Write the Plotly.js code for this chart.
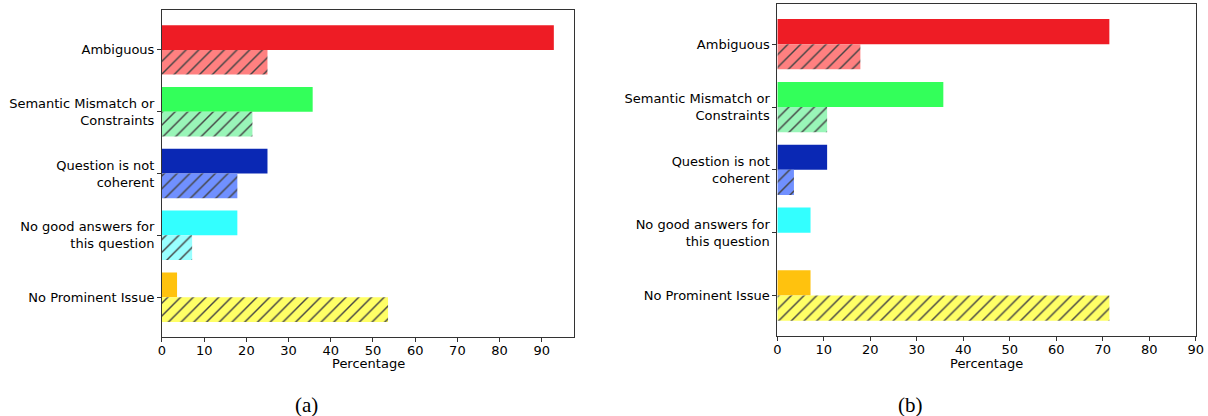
<!DOCTYPE html>
<html>
<head>
<meta charset="utf-8">
<script src="https://cdn.plot.ly/plotly-3.0.1.min.js"></script>
<style>html,body{margin:0;padding:0;background:#fff}#chart{width:1208px;height:416px}</style>
</head>
<body>
<div id="chart"></div>
<script>
const categories = ["Ambiguous", "Semantic Mismatch or<br>Constraints", "Question is not<br>coherent", "No good answers for<br>this question", "No Prominent Issue"];
const solidA = [92.86, 35.71, 25.00, 17.86, 3.57];
const hatchA = [25.00, 21.43, 17.86, 7.14, 53.57];
const solidB = [71.43, 35.71, 10.71, 7.14, 7.14];
const hatchB = [17.86, 10.71, 3.57, 0, 71.43];
const solidColors = ["#ee1c25", "#33ff5a", "#0a28b4", "#33ffff", "#ffc20e"];
const hatchColors = ["#ff8080", "#99f5b8", "#7090ff", "#99ffff", "#ffff66"];
const captions = ["(a)", "(b)"];
const xTitle = "Percentage";

function solidTrace(x, xa, ya) {
  return {type: "bar", orientation: "h", y: categories, x: x, xaxis: xa, yaxis: ya,
    width: 0.4, offset: -0.4, marker: {color: solidColors, line: {width: 0}},
    hoverinfo: "x+y", showlegend: false};
}
function hatchTrace(x, xa, ya) {
  return {type: "bar", orientation: "h", y: categories, x: x, xaxis: xa, yaxis: ya,
    width: 0.4, offset: 0, marker: {color: hatchColors, line: {width: 0},
      pattern: {shape: "/", fgcolor: "#000", fgopacity: 1, size: 9, solidity: 0.16, fillmode: "overlay"}},
    hoverinfo: "x+y", showlegend: false};
}

const data = [
  solidTrace(solidA, "x", "y"), hatchTrace(hatchA, "x", "y"),
  solidTrace(solidB, "x2", "y2"), hatchTrace(hatchB, "x2", "y2")
];

const font = {family: "DejaVu Sans", size: 13, color: "#000"};
const xcommon = {showgrid: false, zeroline: false, showline: true, mirror: true, linecolor: "#333", linewidth: 1,
  ticks: "outside", ticklen: 4, tickcolor: "#333", tickfont: font, dtick: 10, tick0: 0, ticklabelstandoff: -2};
const ycommon = {type: "category", showgrid: false, zeroline: false, showline: true, mirror: true, linecolor: "#333", linewidth: 1,
  ticks: "outside", ticklen: 4, tickcolor: "#333", tickfont: font, range: [4.64, -0.64]};

const domA = [0.1341, 0.4752], domB = [0.6435, 0.9898];
const layout = {
  width: 1208, height: 416,
  margin: {l: 0, r: 0, t: 0, b: 0},
  paper_bgcolor: "#fff", plot_bgcolor: "#fff",
  font: font,
  xaxis: Object.assign({}, xcommon, {domain: domA, range: [0, 97.65], anchor: "y"}),
  yaxis: Object.assign({}, ycommon, {domain: [0.1906, 0.9752], anchor: "x"}),
  xaxis2: Object.assign({}, xcommon, {domain: domB, range: [0, 90], anchor: "y2"}),
  yaxis2: Object.assign({}, ycommon, {domain: [0.1930, 0.9904], anchor: "x2"}),
  annotations: [
    {text: xTitle, xref: "paper", yref: "paper", x: (domA[0] + domA[1]) / 2, y: 1 - 363 / 416, xanchor: "center", yanchor: "middle",
      showarrow: false, font: font},
    {text: xTitle, xref: "paper", yref: "paper", x: (domB[0] + domB[1]) / 2, y: 1 - 363 / 416, xanchor: "center", yanchor: "middle",
      showarrow: false, font: font},
    {text: captions[0], xref: "paper", yref: "paper", x: 306 / 1208, y: 1 - 405 / 416, xanchor: "center", yanchor: "middle",
      showarrow: false, font: {family: "Liberation Serif", size: 21, color: "#000"}},
    {text: captions[1], xref: "paper", yref: "paper", x: 910 / 1208, y: 1 - 405 / 416, xanchor: "center", yanchor: "middle",
      showarrow: false, font: {family: "Liberation Serif", size: 21, color: "#000"}}
  ]
};

Plotly.newPlot("chart", data, layout, {displayModeBar: false, staticPlot: true});
</script>
</body>
</html>
